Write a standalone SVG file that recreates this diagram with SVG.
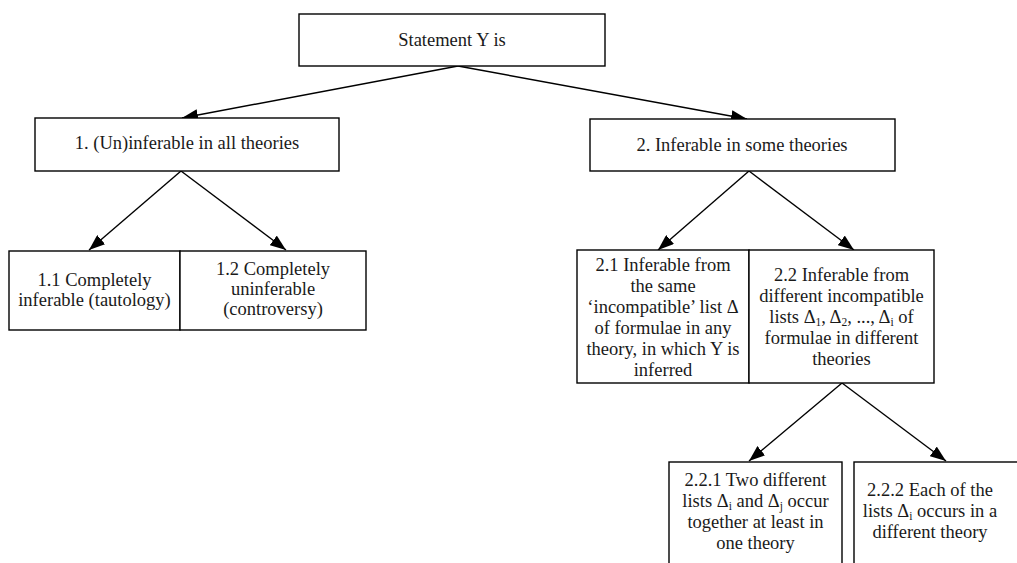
<svg xmlns="http://www.w3.org/2000/svg" width="1017" height="563" viewBox="0 0 1017 563">
<style>
.box{fill:#fff;stroke:#000;stroke-width:1.4}
text{font-family:"Liberation Serif","Times New Roman",serif;font-size:18.5px;fill:#1a1a1a;text-anchor:middle}
.sub{font-size:11.5px}
.con{stroke:#000;stroke-width:1.4;fill:none}
</style>
<defs>
<marker id="ah" viewBox="0 0 16 12" refX="16" refY="6" markerWidth="16" markerHeight="12" markerUnits="userSpaceOnUse" orient="auto">
<path d="M0,0 L16,6 L0,12 z" fill="#000"/>
</marker>
</defs>
<g id="connectors">
<line class="con" x1="458" y1="66" x2="182" y2="118" marker-end="url(#ah)"/>
<line class="con" x1="458" y1="66" x2="747" y2="119" marker-end="url(#ah)"/>
<line class="con" x1="181" y1="171" x2="89" y2="250" marker-end="url(#ah)"/>
<line class="con" x1="181" y1="171" x2="286" y2="250" marker-end="url(#ah)"/>
<line class="con" x1="749" y1="171" x2="658" y2="250" marker-end="url(#ah)"/>
<line class="con" x1="749" y1="171" x2="854" y2="250" marker-end="url(#ah)"/>
<line class="con" x1="842" y1="383" x2="749" y2="461" marker-end="url(#ah)"/>
<line class="con" x1="842" y1="383" x2="946" y2="461" marker-end="url(#ah)"/>
</g>
<g id="n-root">
<rect class="box" x="299" y="14" width="306" height="52"/>
<text x="452" y="46">Statement Y is</text>
</g>
<g id="n-1">
<rect class="box" x="35" y="118" width="304" height="53"/>
<text x="187" y="149">1. (Un)inferable in all theories</text>
</g>
<g id="n-2">
<rect class="box" x="590" y="119" width="305" height="52"/>
<text x="742" y="151">2. Inferable in some theories</text>
</g>
<g id="n-1-1">
<rect class="box" x="9" y="251" width="171" height="79"/>
<text x="94.5" y="286">1.1 Completely</text>
<text x="94.5" y="306">inferable (tautology)</text>
</g>
<g id="n-1-2">
<rect class="box" x="180" y="251" width="186" height="79"/>
<text x="273" y="275">1.2 Completely</text>
<text x="273" y="295">uninferable</text>
<text x="273" y="315">(controversy)</text>
</g>
<g id="n-2-1">
<rect class="box" x="577" y="250" width="172" height="133"/>
<text x="663" y="271">2.1 Inferable from</text>
<text x="663" y="292">the same</text>
<text x="663" y="313">‘incompatible’ list Δ</text>
<text x="663" y="334">of  formulae in any</text>
<text x="663" y="355">theory, in which Y is</text>
<text x="663" y="376">inferred</text>
</g>
<g id="n-2-2">
<rect class="box" x="749" y="250" width="185" height="133"/>
<text x="841.5" y="281">2.2 Inferable from</text>
<text x="841.5" y="302">different incompatible</text>
<text x="841.5" y="323">lists Δ<tspan class="sub" dy="3">1</tspan><tspan dy="-3">, Δ</tspan><tspan class="sub" dy="3">2</tspan><tspan dy="-3">, ..., Δ</tspan><tspan class="sub" dy="3">i</tspan><tspan dy="-3"> of</tspan></text>
<text x="841.5" y="344">formulae in different</text>
<text x="841.5" y="365">theories</text>
</g>
<g id="n-2-2-1">
<rect class="box" x="669" y="462" width="173" height="110"/>
<text x="755.5" y="486">2.2.1 Two different</text>
<text x="755.5" y="507">lists Δ<tspan class="sub" dy="3">i</tspan><tspan dy="-3"> and Δ</tspan><tspan class="sub" dy="3">j</tspan><tspan dy="-3"> occur</tspan></text>
<text x="755.5" y="528">together at least in</text>
<text x="755.5" y="549">one theory</text>
</g>
<g id="n-2-2-2">
<rect class="box" x="854" y="462" width="175" height="110"/>
<text x="930" y="496">2.2.2 Each of the</text>
<text x="930" y="517">lists Δ<tspan class="sub" dy="3">i</tspan><tspan dy="-3"> occurs in a</tspan></text>
<text x="930" y="538">different theory</text>
</g>
</svg>
